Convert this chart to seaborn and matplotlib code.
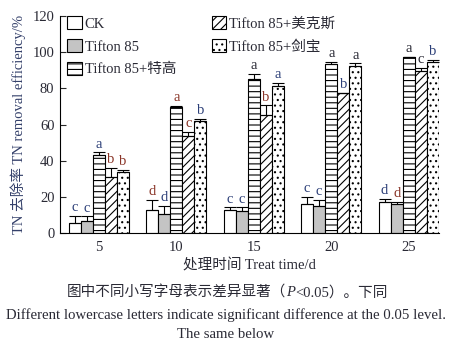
import numpy as np
import pandas as pd
import matplotlib
matplotlib.use("Agg")
import matplotlib.pyplot as plt
from matplotlib.patches import Patch
import seaborn as sns

days = ["5", "10", "15", "20", "25"]
treatments = ["CK", "Tifton 85", "Tifton 85+特高", "Tifton 85+美克斯", "Tifton 85+剑宝"]
values = {
    "CK":              [5.4, 12.5, 12.5, 15.9, 17.0],
    "Tifton 85":       [6.8, 10.3, 12.2, 15.1, 15.9],
    "Tifton 85+特高":   [43.1, 69.9, 85.3, 93.4, 97.1],
    "Tifton 85+美克斯": [30.8, 53.8, 65.4, 77.2, 89.6],
    "Tifton 85+剑宝":   [33.6, 61.9, 81.5, 92.3, 94.7],
}
errors = {
    "CK":              [4.2, 5.6, 1.7, 4.2, 1.8],
    "Tifton 85":       [2.4, 4.8, 2.0, 3.0, 1.4],
    "Tifton 85+特高":   [1.5, 0.3, 2.6, 1.3, 0.4],
    "Tifton 85+美克斯": [5.0, 2.2, 5.2, 0.3, 1.5],
    "Tifton 85+剑宝":   [1.4, 1.0, 1.3, 1.5, 1.0],
}
letters = {
    "CK":              ["c", "d", "c", "c", "d"],
    "Tifton 85":       ["c", "d", "c", "c", "d"],
    "Tifton 85+特高":   ["a", "a", "a", "a", "a"],
    "Tifton 85+美克斯": ["b", "c", "b", "b", "c"],
    "Tifton 85+剑宝":   ["b", "b", "a", "a", "b"],
}

NAVY = "#2c3f78"
BROWN = "#8a3528"
DARK = "#2a2a35"
letter_colors = {
    "CK":              [NAVY, BROWN, NAVY, NAVY, NAVY],
    "Tifton 85":       [NAVY, NAVY, NAVY, NAVY, BROWN],
    "Tifton 85+特高":   [NAVY, BROWN, DARK, DARK, DARK],
    "Tifton 85+美克斯": [BROWN, BROWN, BROWN, NAVY, DARK],
    "Tifton 85+剑宝":   [BROWN, NAVY, NAVY, DARK, NAVY],
}
fills = ["white", "#c4c4c4", "white", "white", "white"]
hatches = [None, None, "---", "////", "..."]

rows = []
for t in treatments:
    for i, d in enumerate(days):
        rows.append({"day": d, "treatment": t, "value": values[t][i]})
df = pd.DataFrame(rows)

sns.set_theme(style="ticks")
FAM = ["Liberation Serif", "Noto Sans CJK SC"]
plt.rcParams["font.family"] = FAM
plt.rcParams["hatch.linewidth"] = 0.8
plt.rcParams["hatch.color"] = "black"

fig = plt.figure(figsize=(4.51, 3.44), dpi=100)
ax = fig.add_axes([60 / 451, 1 - 233 / 344, (439 - 60) / 451, (233 - 16) / 344])

sns.barplot(data=df, x="day", y="value", hue="treatment", hue_order=treatments,
            order=days, palette=fills, width=0.78, edgecolor="black", linewidth=0.8,
            errorbar=None, legend=False, ax=ax, saturation=1)

for ci, (cont, t) in enumerate(zip(ax.containers, treatments)):
    for bi, bar in enumerate(cont):
        bar.set_facecolor(fills[ci])
        if hatches[ci]:
            bar.set_hatch(hatches[ci])
        x = bar.get_x() + bar.get_width() / 2
        h = bar.get_height()
        e = errors[t][bi]
        ax.errorbar(x, h, yerr=[[0], [e]], fmt="none", ecolor="black",
                    elinewidth=0.8, capsize=4, capthick=0.8, zorder=3)
        ax.text(x, h + e + 1.0, letters[t][bi], ha="center", va="bottom",
                fontsize=10.5, color=letter_colors[t][bi])

ax.set_ylim(0, 120)
ax.set_yticks([0, 20, 40, 60, 80, 100, 120])
ax.set_xlim(-0.5, 4.39)
ax.tick_params(axis="y", direction="in", length=4, width=0.8, labelsize=10.5,
               labelcolor=DARK, pad=4)
ax.tick_params(axis="x", length=0, labelsize=10.5, labelcolor=DARK, pad=6)
for s in ["top", "right"]:
    ax.spines[s].set_visible(False)
for s in ["left", "bottom"]:
    ax.spines[s].set_linewidth(0.8)
    ax.spines[s].set_color("black")
ax.set_xlabel("处理时间 Treat time/d", fontsize=10.5, color=DARK, labelpad=3)
ax.set_ylabel("TN 去除率 TN removal efficiency/%", fontsize=10.5, color="#34406a", labelpad=5)

handles = [Patch(facecolor=fills[i], edgecolor="black", linewidth=0.8,
                 hatch=hatches[i]) for i in range(len(treatments))]
ax.legend(handles, treatments, ncol=2, loc="upper left", bbox_to_anchor=(-0.008, 1.045),
          frameon=False, fontsize=10.5, handlelength=1.0, handleheight=1.0,
          handletextpad=0.2, columnspacing=2.45, labelspacing=0.55, borderaxespad=0.3,
          labelcolor=DARK)

# Chinese caption with italic P, built from pieces
cap_y = 1 - 293 / 344
pieces = [("图中不同小写字母表示差异显著（", "normal"), ("P", "italic"), ("<0.05）。下同", "normal")]
txts = [fig.text(0, cap_y, s, ha="left", va="center", fontsize=10.5, color=DARK,
                 family=FAM, style=st) for s, st in pieces]
fig.canvas.draw()
r = fig.canvas.get_renderer()
widths = [t.get_window_extent(r).width / fig.bbox.width for t in txts]
x0 = 0.5 - sum(widths) / 2 + 0.004
for t, w in zip(txts, widths):
    t.set_x(x0)
    x0 += w

fig.text(0.5, 1 - 315 / 344,
         "Different lowercase letters indicate significant difference at the 0.05 level.",
         ha="center", va="center", fontsize=10.6, color=DARK)
fig.text(0.5, 1 - 334 / 344, "The same below", ha="center", va="center",
         fontsize=10.6, color=DARK)

fig.savefig("out.png", dpi=100)
